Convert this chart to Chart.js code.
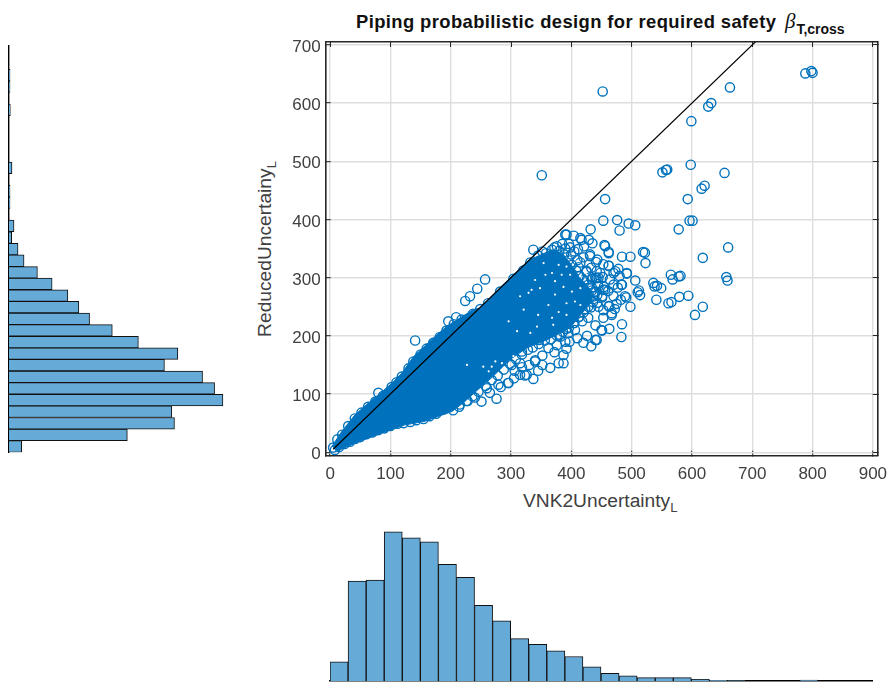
<!DOCTYPE html>
<html>

<head>
    <title>Piping probabilistic design</title>
    <script src="https://cdn.jsdelivr.net/npm/chart.js"></script>
    <style>
        html, body { margin: 0; background: #fff; overflow: hidden; }
        body { width: 888px; height: 682px; position: relative; font-family: "Liberation Sans", sans-serif; }
        canvas { position: absolute; }
        .label { position: absolute; white-space: nowrap; color: #404040; font-size: 19.2px; }
        .label sub { font-size: 13px; vertical-align: -5px; line-height: 0; }
        #title { left: 356px; top: 9px; color: #111; font-weight: bold; font-size: 18.4px; letter-spacing: 0.4px; }
        #title i { font-family: "Liberation Serif", serif; font-weight: normal; font-size: 21px; margin-left: 3px; letter-spacing: 0; }
        #title sub { font-size: 14px; vertical-align: -6px; margin-left: 1px; letter-spacing: 0; }
        #xlabel { left: 523px; top: 490px; }
        #ylabel { left: 265px; top: 249px; transform: translate(-50%, -50%) rotate(-90deg); }
    </style>
</head>

<body>
    <div class="label" id="title">Piping probabilistic design for required safety <i>&beta;</i><sub>T,cross</sub></div>
    <div class="label" id="xlabel">VNK2Uncertainty<sub>L</sub></div>
    <div class="label" id="ylabel">ReducedUncertainy<sub>L</sub></div>

    <canvas id="scatterChart" style="left:270px;top:30px" width="618" height="460"></canvas>
    <canvas id="leftHist" style="left:4px;top:40px" width="240" height="418"></canvas>
    <canvas id="bottomHist" style="left:325px;top:520px" width="552" height="162"></canvas>

    <script type="text/javascript" charset="utf-8">

        // histogram along the x value, 30 wide bins
        const xBins = [15, 45, 75, 105, 135, 165, 195, 225, 255, 285, 315, 345, 375, 405, 435, 465, 495, 525, 555, 585, 615, 645, 675, 705, 735, 765, 795, 825, 855, 885];
        const xCounts = [58, 302, 305, 451, 433, 421, 353, 314, 229, 182, 128, 111, 91, 74, 43, 23, 16, 10, 10, 10, 5, 2, 1, 0, 0, 0, 3, 0, 0, 0];

        // histogram along the y value, 20 wide bins, bottom bin first
        const yBins = [10, 30, 50, 70, 90, 110, 130, 150, 170, 190, 210, 230, 250, 270, 290, 310, 330, 350, 370, 390, 410, 430, 450, 470, 490, 510, 530, 550, 570, 590, 610, 630, 650, 670, 690];
        const yCounts = [38, 354, 495, 487, 640, 615, 579, 465, 505, 387, 309, 241, 209, 176, 129, 85, 45, 27, 8, 15, 0, 3, 3, 0, 9, 0, 0, 0, 0, 4, 0, 3, 3, 0, 0];

        const tickValues = [0, 100, 200, 300, 400, 500, 600, 700, 800, 900];

        // outer points, read one by one
        const outlierPoints = [
            [452, 620], [663, 627], [788, 651], [798, 655], [800, 652], [632, 600], [627, 594], [599, 569],
            [598, 494], [654, 480], [551, 481], [557, 485], [559, 486], [621, 458], [616, 453], [456, 435],
            [593, 435], [453, 398], [476, 399], [495, 393], [506, 390], [480, 381], [596, 398], [601, 398],
            [578, 383], [660, 352], [618, 334], [455, 356], [462, 344], [519, 344], [522, 343], [484, 336],
            [498, 336], [523, 325], [657, 301], [659, 295], [565, 305], [568, 297], [578, 302], [581, 303],
            [618, 250], [605, 236], [594, 269], [579, 267], [561, 256], [566, 258], [541, 262], [536, 291],
            [542, 286], [549, 282], [538, 285], [510, 275], [514, 270], [512, 278], [491, 266], [484, 220],
            [483, 198], [463, 212], [451, 209], [506, 295], [492, 307], [478, 315], [470, 308], [462, 321],
            [483, 288], [453, 279], [451, 268], [445, 300], [434, 297], [431, 340], [429, 365], [432, 383],
            [415, 368], [390, 374], [351, 476], [141, 192], [257, 297], [244, 281], [232, 268], [224, 260],
            [209, 232], [196, 225], [80, 102], [415, 326], [448, 308], [376, 354],
            [337, 348], [352, 345], [404, 372], [396, 358], [411, 349], [421, 354], [441, 327], [470, 268], [477, 283]
        ];

        // circles along the upper rim of the cloud
        const upperRimPoints = [
            [5, 8], [12, 22], [20, 30], [30, 45], [41, 58], [52, 68], [63, 78], [75, 87], [88, 97], [102, 112], [110, 120],
            [119, 130], [130, 144], [138, 156], [150, 168], [160, 178], [171, 188], [182, 198], [193, 209], [205, 220], [218, 228],
            [237, 238], [249, 246], [262, 256], [282, 276], [304, 298], [320, 312], [332, 326], [345, 338], [358, 342], [368, 348]
        ];

        // circles along the lower rim of the cloud
        const lowerRimPoints = [
            [8, 4], [15, 9], [24, 14], [33, 18], [42, 23], [50, 26], [60, 31], [70, 34], [80, 38], [90, 41], [100, 45],
            [112, 49], [122, 50], [133, 52], [143, 55], [155, 57], [165, 62], [176, 66], [189, 74], [204, 72], [215, 82],
            [228, 88], [240, 94], [251, 87], [265, 102], [276, 92], [283, 112], [295, 119], [305, 127], [315, 133], [323, 132],
            [337, 126], [345, 140], [352, 150], [340, 158], [365, 145], [379, 153], [387, 153], [387, 167], [362, 179], [372, 172],
            [397, 190], [410, 196], [420, 188], [433, 182], [442, 193], [426, 200], [406, 210], [450, 210], [440, 218], [453, 231],
            [467, 239], [475, 255], [498, 250], [330, 150], [318, 146], [306, 140], [352, 166], [376, 184], [392, 178]
        ];

        // circles straddling the right and lower side of the core
        const coreRimPoints = [
            [372, 352], [380, 346], [388, 340], [395, 330], [401, 322], [408, 312], [414, 303], [421, 296], [428, 288], [434, 278],
            [438, 268], [436, 258], [428, 250], [420, 240], [412, 232], [404, 222], [396, 214], [386, 207], [376, 200], [366, 194],
            [356, 192], [346, 186], [336, 180], [328, 176], [318, 168], [308, 160], [298, 152], [288, 142], [278, 132], [268, 124],
            [258, 114], [246, 104], [236, 96], [226, 88], [214, 78], [445, 285], [443, 270], [440, 300], [425, 310], [410, 330],
            [400, 340], [390, 350]
        ];

        // single circles around the right and lower side of the solid core
        const speckledPoints = [
            [413, 233], [423, 246], [433, 249], [434, 283], [432, 301], [433, 317], [431, 337], [435, 359],
            [443, 257], [441, 276], [444, 289], [442, 311], [443, 331],
            [453, 244], [451, 266], [454, 284], [452, 301], [453, 323],
            [463, 251], [461, 277], [464, 297], [472, 246], [470, 288], [482, 262], [480, 303],
            [392, 374], [417, 365], [456, 354], [462, 342], [462, 320], [473, 311], [492, 308],
            [484, 288], [489, 268], [456, 279], [442, 299], [426, 297], [462, 251], [467, 236], [428, 231],
            [440, 193], [395, 205], [382, 199],
            [260, 110], [326, 133], [340, 156],
            [315, 153], [301, 150], [279, 116], [296, 119], [390, 190], [381, 202], [346, 193], [318, 173],
            [420, 335], [405, 345], [398, 352], [385, 358], [412, 318], [425, 312], [437, 275], [445, 250], [418, 225], [405, 222], [392, 212]
        ];

        // outline of the solid core, where the circles overlap completely
        const coreOutlineX = [3, 19, 41, 63, 102, 119, 138, 171, 193, 237, 249, 282, 304, 332, 368, 385, 398, 414, 431, 435, 415, 398, 359, 326, 298, 270, 249, 221, 202, 157, 124, 86, 47, 12];
        const coreOutlineY = [10, 35, 64, 84, 118, 136, 164, 196, 216, 245, 248, 283, 305, 331, 348, 342, 325, 300, 280, 260, 236, 214, 193, 179, 159, 130, 111, 85, 70, 53, 47, 33, 18, 2];

        // small gaps that stay open inside the core
        const coreGapsX = [387, 373, 384, 368, 354, 392, 409, 415, 401, 373, 362, 379, 348, 329, 334, 315, 321, 345, 368, 392, 406, 392, 296, 415, 426, 379, 398, 357, 340, 415, 304, 285, 268, 254, 343, 370, 310, 227, 263, 274, 332];
        const coreGapsY = [284, 294, 305, 308, 325, 319, 328, 302, 276, 271, 253, 241, 282, 274, 279, 268, 245, 236, 231, 236, 259, 256, 225, 282, 305, 322, 305, 305, 296, 253, 165, 153, 147, 147, 216, 219, 208, 150, 139, 156, 205];

        const refLineX = [5, 710];
        const refLineY = [5, 710];

        const barColor = '#66AAD7';
        const markerColor = '#0072BD';
        const axisColor = '#262626';
        const gridColor = '#DEDEDE';

        function toXY(xs, ys) {
            return xs.map((x, i) => ({ x: x, y: ys[i] }));
        }

        function toPoints(list) {
            return list.map(p => ({ x: p[0], y: p[1] }));
        }

        function markerDataset(list) {
            return {
                data: toPoints(list),
                showLine: false,
                pointStyle: 'circle',
                pointRadius: 4.6,
                pointBorderWidth: 1.4,
                pointBorderColor: markerColor,
                pointBackgroundColor: 'rgba(0,0,0,0)',
                order: 3
            };
        }

        // fixed axis thickness so the plot box lands where it should,
        // and no room kept for labels sticking out past the ends
        function fixHeight(h) {
            return function (scale) {
                scale.height = h;
                scale.paddingLeft = 0;
                scale.paddingRight = 0;
            };
        }
        function fixWidth(w) {
            return function (scale) {
                scale.width = w;
                scale.paddingTop = 0;
                scale.paddingBottom = 0;
            };
        }

        function tickAxis(min, max, opts) {
            return Object.assign({
                type: 'linear',
                min: min,
                max: max,
                grid: { color: gridColor, lineWidth: 1.4, drawTicks: true, tickLength: -5, tickColor: axisColor, tickWidth: 1 },
                border: { color: axisColor, width: 1.6 }
            }, opts);
        }

        function labelFont() {
            return { family: '"Liberation Sans", sans-serif', size: 17 };
        }

        new Chart(document.getElementById('scatterChart'), {
            type: 'scatter',
            data: {
                datasets: [
                    {
                        type: 'line',
                        data: toXY(refLineX, refLineY),
                        borderColor: '#000',
                        borderWidth: 1.2,
                        pointRadius: 0,
                        order: 0
                    },
                    {
                        data: toXY(coreGapsX, coreGapsY),
                        showLine: false,
                        pointRadius: 1.1,
                        pointBorderWidth: 0,
                        pointBackgroundColor: '#FFFFFF',
                        order: 1
                    },
                    {
                        type: 'line',
                        data: toXY(coreOutlineX, coreOutlineY),
                        borderColor: markerColor,
                        backgroundColor: markerColor,
                        borderWidth: 1,
                        pointRadius: 0,
                        fill: 'shape',
                        order: 2
                    },
                    markerDataset(outlierPoints),
                    markerDataset(upperRimPoints),
                    markerDataset(lowerRimPoints),
                    markerDataset(coreRimPoints),
                    markerDataset(speckledPoints)
                ]
            },
            options: {
                responsive: false,
                animation: false,
                layout: { padding: { left: 0, top: 12, right: 10.3, bottom: 0 } },
                plugins: { legend: { display: false }, tooltip: { enabled: false } },
                scales: {
                    x: tickAxis(-7.3, 908, {
                        position: 'bottom',
                        afterFit: fixHeight(34.3),
                        afterBuildTicks: function (scale) { scale.ticks = tickValues.map(v => ({ value: v })); },
                        ticks: { font: labelFont(), color: '#404040', padding: 13, maxRotation: 0 }
                    }),
                    y: tickAxis(-6, 705, {
                        position: 'left',
                        afterFit: fixWidth(55.7),
                        afterBuildTicks: function (scale) { scale.ticks = tickValues.slice(0, 8).map(v => ({ value: v })); },
                        ticks: { font: labelFont(), color: '#404040', padding: 10, labelOffset: 2.5 }
                    }),
                    xTop: tickAxis(-7.3, 908, {
                        position: 'top',
                        afterFit: fixHeight(0),
                        afterBuildTicks: function (scale) { scale.ticks = tickValues.map(v => ({ value: v })); },
                        ticks: { display: false },
                        grid: { display: true, color: 'rgba(0,0,0,0)', tickLength: -5, tickColor: axisColor, tickWidth: 1 }
                    }),
                    yRight: tickAxis(-6, 705, {
                        position: 'right',
                        afterFit: fixWidth(0),
                        afterBuildTicks: function (scale) { scale.ticks = tickValues.slice(0, 8).map(v => ({ value: v })); },
                        ticks: { display: false },
                        grid: { display: true, color: 'rgba(0,0,0,0)', tickLength: -5, tickColor: axisColor, tickWidth: 1 }
                    })
                }
            }
        });

        function histogram(el, bins, counts, horizontal, countMax, padding) {
            const valueAxis = { display: false, min: 0, max: countMax };
            const binAxis = {
                reverse: horizontal,
                ticks: { display: false },
                grid: { display: false, drawTicks: false },
                border: { color: '#000', width: 1.4 }
            };
            new Chart(el, {
                type: 'bar',
                data: {
                    labels: bins,
                    datasets: [{
                        data: counts,
                        backgroundColor: barColor,
                        borderColor: '#111',
                        borderWidth: 1,
                        barPercentage: 1,
                        categoryPercentage: 1
                    }]
                },
                options: {
                    indexAxis: horizontal ? 'y' : 'x',
                    responsive: false,
                    animation: false,
                    layout: { padding: padding },
                    plugins: { legend: { display: false }, tooltip: { enabled: false } },
                    scales: horizontal ? { x: valueAxis, y: Object.assign(binAxis, { afterFit: fixWidth(0) }) }
                        : { x: Object.assign(binAxis, { afterFit: fixHeight(0) }), y: valueAxis }
                }
            });
        }

        // left histogram: baseline at px 9, bins from y 46 to 452
        histogram(document.getElementById('leftHist'), yBins, yCounts, true, 703, { left: 5, top: 6, right: 0, bottom: 5.7 });
        // bottom histogram: baseline at y 681, bins from x 330 to 872
        histogram(document.getElementById('bottomHist'), xBins, xCounts, false, 451 * 162 / 150, { left: 5, top: 0, right: 5, bottom: 1 });

    </script>
</body>

</html>
